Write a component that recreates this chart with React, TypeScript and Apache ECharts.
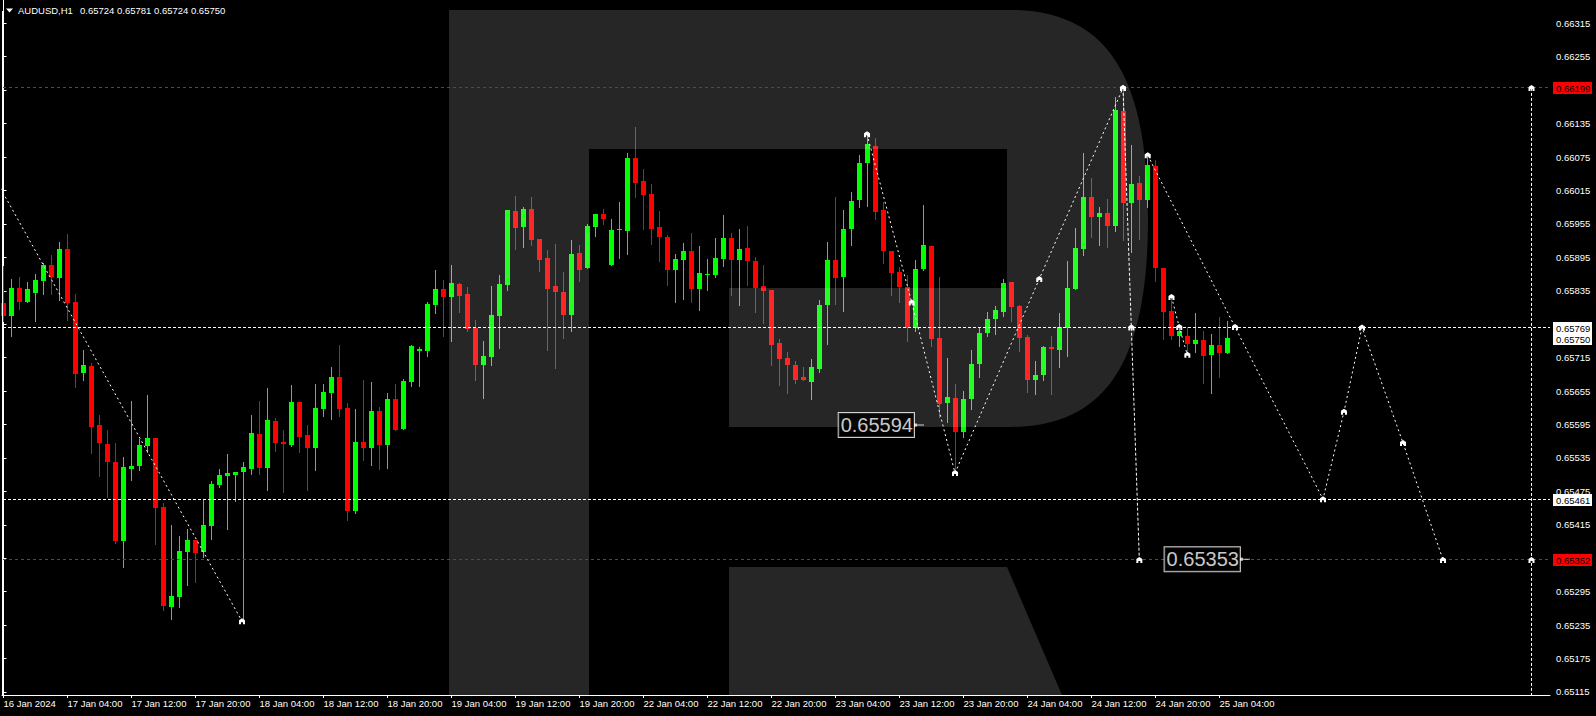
import React, { useEffect, useRef } from "react";
import * as echarts from "echarts";

// ---- Data (AUDUSD H1, bar index 0 = 16 Jan 20:00) ----
const opens = [
  0.65813,0.65789,0.65840,0.65815,0.65831,0.65853,0.65881,0.65858,0.65910,0.65815,
  0.65687,0.65700,0.65594,0.65560,0.65528,0.65386,0.65515,0.65521,0.65556,0.65571,
  0.65447,0.65268,0.65286,0.65367,0.65388,0.65367,0.65413,0.65486,0.65503,0.65504,
  0.65510,0.65515,0.65578,0.65517,0.65601,0.65564,0.65558,0.65635,0.65576,0.65553,
  0.65623,0.65652,0.65680,0.65625,0.65439,0.65564,0.65553,0.65619,0.65559,0.65641,
  0.65587,0.65672,0.65727,0.65727,0.65810,0.65838,0.65824,0.65847,0.65829,0.65768,
  0.65701,0.65717,0.65790,0.65846,0.65978,0.65950,0.65982,0.65928,0.65894,0.65844,
  0.65833,0.65792,0.65903,0.65875,0.65950,0.65973,0.65882,0.65944,0.65943,0.66073,
  0.66032,0.66009,0.65949,0.65931,0.65873,0.65890,0.65906,0.65839,0.65864,0.65863,
  0.65892,0.65930,0.65891,0.65912,0.65888,0.65844,0.65836,0.65741,0.65714,0.65702,
  0.65680,0.65672,0.65695,0.65810,0.65890,0.65860,0.65945,0.65997,0.66065,0.66095,
  0.65980,0.65906,0.65869,0.65842,0.65769,0.65874,0.65915,0.65750,0.65634,0.65643,
  0.65582,0.65640,0.65704,0.65760,0.65785,0.65797,0.65851,0.65808,0.65752,0.65674,
  0.65684,0.65734,0.65729,0.65769,0.65839,0.65910,0.66003,0.65968,0.65975,0.65952,
  0.66158,0.65993,0.66028,0.65997,0.66059,0.65876,0.65799,0.65754,0.65754,0.65740,
  0.65747,0.65719,0.65738,0.65724,
];
const highs = [
  0.65880,0.65856,0.65860,0.65851,0.65865,0.65885,0.65899,0.65922,0.65937,0.65829,
  0.65729,0.65705,0.65612,0.65585,0.65562,0.65537,0.65637,0.65569,0.65648,0.65571,
  0.65454,0.65415,0.65395,0.65407,0.65388,0.65461,0.65494,0.65515,0.65542,0.65510,
  0.65528,0.65612,0.65637,0.65660,0.65607,0.65585,0.65666,0.65635,0.65594,0.65668,
  0.65668,0.65698,0.65738,0.65634,0.65623,0.65675,0.65671,0.65626,0.65652,0.65668,
  0.65677,0.65738,0.65734,0.65815,0.65872,0.65854,0.65881,0.65849,0.65842,0.65783,
  0.65745,0.65844,0.65863,0.65980,0.66005,0.65985,0.66003,0.65928,0.65908,0.65919,
  0.65869,0.65926,0.65917,0.65955,0.65973,0.65982,0.65964,0.65994,0.66082,0.66129,
  0.66053,0.66027,0.65978,0.65935,0.65901,0.65921,0.65939,0.65915,0.65892,0.65930,
  0.65971,0.65939,0.65946,0.65951,0.65896,0.65881,0.65836,0.65748,0.65725,0.65709,
  0.65698,0.65713,0.65818,0.65922,0.66003,0.65980,0.66012,0.66079,0.66116,0.66109,
  0.65994,0.65906,0.65878,0.65863,0.65890,0.65989,0.65915,0.65860,0.65714,0.65668,
  0.65655,0.65729,0.65770,0.65797,0.65808,0.65856,0.65851,0.65810,0.65756,0.65709,
  0.65736,0.65754,0.65795,0.65888,0.65948,0.66082,0.66037,0.65985,0.66000,0.66183,
  0.66199,0.66097,0.66041,0.66079,0.66070,0.65876,0.65824,0.65770,0.65770,0.65795,
  0.65763,0.65757,0.65788,0.65781,
];
const lows = [
  0.65780,0.65753,0.65803,0.65815,0.65780,0.65830,0.65830,0.65819,0.65783,0.65663,
  0.65675,0.65543,0.65503,0.65465,0.65382,0.65340,0.65496,0.65514,0.65546,0.65381,
  0.65263,0.65246,0.65268,0.65307,0.65313,0.65358,0.65390,0.65483,0.65408,0.65458,
  0.65242,0.65506,0.65506,0.65477,0.65547,0.65474,0.65556,0.65546,0.65477,0.65514,
  0.65611,0.65605,0.65611,0.65424,0.65437,0.65532,0.65523,0.65516,0.65517,0.65586,
  0.65587,0.65665,0.65665,0.65718,0.65796,0.65753,0.65744,0.65797,0.65763,0.65674,
  0.65643,0.65701,0.65733,0.65837,0.65910,0.65914,0.65918,0.65871,0.65729,0.65697,
  0.65751,0.65762,0.65853,0.65875,0.65934,0.65954,0.65882,0.65893,0.65901,0.66004,
  0.65946,0.65919,0.65889,0.65846,0.65814,0.65821,0.65814,0.65801,0.65837,0.65860,
  0.65880,0.65828,0.65810,0.65846,0.65797,0.65778,0.65702,0.65666,0.65652,0.65670,
  0.65674,0.65641,0.65690,0.65740,0.65812,0.65799,0.65918,0.65986,0.65988,0.65964,
  0.65884,0.65828,0.65814,0.65745,0.65762,0.65872,0.65736,0.65609,0.65600,0.65508,
  0.65573,0.65623,0.65681,0.65753,0.65758,0.65790,0.65780,0.65727,0.65654,0.65650,
  0.65674,0.65650,0.65699,0.65718,0.65839,0.65900,0.65932,0.65918,0.65914,0.65943,
  0.65927,0.65905,0.65928,0.65986,0.65853,0.65749,0.65749,0.65735,0.65727,0.65726,
  0.65670,0.65652,0.65681,0.65724,
];
const closes = [
  0.65789,0.65840,0.65815,0.65838,0.65854,0.65881,0.65860,0.65910,0.65813,0.65686,
  0.65702,0.65591,0.65561,0.65528,0.65386,0.65519,0.65521,0.65558,0.65571,0.65446,
  0.65270,0.65287,0.65368,0.65388,0.65365,0.65415,0.65488,0.65504,0.65508,0.65510,
  0.65519,0.65580,0.65517,0.65603,0.65562,0.65560,0.65635,0.65573,0.65553,0.65625,
  0.65653,0.65680,0.65623,0.65439,0.65564,0.65553,0.65619,0.65559,0.65641,0.65586,
  0.65673,0.65736,0.65731,0.65811,0.65838,0.65824,0.65849,0.65826,0.65767,0.65701,
  0.65718,0.65791,0.65847,0.65980,0.65948,0.65982,0.65927,0.65891,0.65839,0.65833,
  0.65792,0.65901,0.65873,0.65951,0.65973,0.65964,0.65944,0.65945,0.66073,0.66029,
  0.66007,0.65946,0.65932,0.65873,0.65892,0.65906,0.65839,0.65867,0.65865,0.65894,
  0.65930,0.65891,0.65910,0.65889,0.65840,0.65835,0.65738,0.65713,0.65701,0.65675,
  0.65674,0.65698,0.65809,0.65890,0.65858,0.65946,0.65996,0.66064,0.66098,0.65977,
  0.65907,0.65867,0.65842,0.65769,0.65874,0.65917,0.65749,0.65632,0.65644,0.65582,
  0.65641,0.65704,0.65759,0.65784,0.65800,0.65849,0.65806,0.65751,0.65674,0.65684,
  0.65734,0.65731,0.65770,0.65840,0.65912,0.66003,0.65968,0.65975,0.65952,0.66159,
  0.65993,0.66027,0.65997,0.66061,0.65875,0.65797,0.65754,0.65763,0.65740,0.65747,
  0.65718,0.65738,0.65724,0.65750,
];

const xTickIndex = [0, 8, 16, 24, 32, 40, 48, 56, 64, 72, 80, 88, 96, 104, 112, 120, 128, 136, 144, 152];
const xTickLabels = [
  "16 Jan 2024", "17 Jan 04:00", "17 Jan 12:00", "17 Jan 20:00", "18 Jan 04:00", "18 Jan 12:00",
  "18 Jan 20:00", "19 Jan 04:00", "19 Jan 12:00", "19 Jan 20:00", "22 Jan 04:00", "22 Jan 12:00",
  "22 Jan 20:00", "23 Jan 04:00", "23 Jan 12:00", "23 Jan 20:00", "24 Jan 04:00", "24 Jan 12:00",
  "24 Jan 20:00", "25 Jan 04:00",
];
const yTickValues = [
  0.66315, 0.66255, 0.66195, 0.66135, 0.66075, 0.66015, 0.65955, 0.65895, 0.65835, 0.65775, 0.65715,
  0.65655, 0.65595, 0.65535, 0.65475, 0.65415, 0.65355, 0.65295, 0.65235, 0.65175, 0.65115,
];
// tick labels that stay visible (0.65775 is fully covered by the price tags)
const yLabelValues = yTickValues.filter((v) => v !== 0.65775);

// horizontal levels and their tag style: red line / white line / price tag only
const levelValues = [0.66199, 0.65769, 0.6575, 0.65461, 0.65352];
const levelKinds = ["red", "white", "price", "white", "red"];

// forecast paths [bar index, price]
const forecastA = [[-1, 0.66035], [29.81, 0.65242]];
const forecastB = [[107.94, 0.66116], [113.53, 0.65814], [118.94, 0.65508], [129.47, 0.65856], [139.94, 0.66199]];
const forecastBDrop = [[139.94, 0.66199], [140.98, 0.65769], [141.98, 0.65352]];
const forecastC = [[143.03, 0.66078], [153.94, 0.6577], [164.94, 0.65461], [167.56, 0.65618], [169.81, 0.65769], [174.94, 0.65562], [179.94, 0.65352]];
const forecastD = [[146.0, 0.65824], [146.97, 0.6577], [147.98, 0.6572]];
const forecastE = [[191.0, 0.66199], [191.0, 0.65352], [191.0, 0.6505]];
const priceTags = [[115.06, 0.65594], [155.8, 0.65353]];

const title = "AUDUSD,H1";
const titleValues = "0.65724 0.65781 0.65724 0.65750";

const X_MIN = -0.1875;
const X_MAX = 193.3125;
const FONT = "'Liberation Sans', Arial, sans-serif";
const FS = 9.5;
const MARK = "path://M0,6 L0,2 L3,0 L6,2 L6,6 L4,6 L4,4 L2,4 L2,6 Z";
const ARROW = "path://M0,0 L3,0 L3,1 L10,1 L10,2 L3,2 L3,3 L0,3 Z";

echarts.graphic.registerShape(
  "rfLogo",
  echarts.graphic.extendPath(
    "M449 10 L1010 10 C1110 10 1148 80 1148 218 C1148 356 1110 427 1010 427 L729 427 L729 288 L1007 288 L1007 149 L589 149 L589 695 L449 695 Z M729 567 L1007 567 L1062 695 L729 695 Z",
    {}
  )
);

function withMarks(points: number[][], noMark: number[] = []) {
  return points.map((p, k) => (noMark.includes(k) ? { value: p, symbol: "none" } : { value: p }));
}

function forecastSeries(points: number[][], dash: number[], noMark: number[] = []) {
  return {
    type: "line",
    data: withMarks(points, noMark),
    symbol: MARK,
    symbolSize: [6, 6],
    showSymbol: true,
    itemStyle: { color: "#ffffff" },
    lineStyle: { color: "#ffffff", width: 1, type: dash },
    silent: true,
    clip: true,
    z: 10,
    animation: false,
  };
}

export default function App() {
  const ref = useRef<HTMLDivElement>(null);
  useEffect(() => {
    if (!ref.current) return;
    const chart = echarts.init(ref.current, null, { renderer: "svg" });
    const candles = opens.map((o, i) => [i, o, highs[i], lows[i], closes[i]]);
    const levels = levelValues.map((v, k) => [k, v]);

    const option: any = {
      animation: false,
      backgroundColor: "#000000",
      textStyle: { fontFamily: FONT },
      grid: { left: 2, right: 46, top: 0, bottom: 21, containLabel: false },
      xAxis: {
        type: "value",
        min: X_MIN,
        max: X_MAX,
        splitLine: { show: false },
        axisLine: { show: true, lineStyle: { color: "#ffffff", width: 1 } },
        axisTick: { show: true, customValues: xTickIndex, length: 3, lineStyle: { color: "#ffffff" } },
        axisLabel: {
          show: true,
          customValues: xTickIndex,
          align: "left",
          margin: 3,
          color: "#ffffff",
          fontSize: FS,
          fontFamily: FONT,
          formatter: (v: number) => {
            const k = xTickIndex.indexOf(Math.round(v));
            return k >= 0 ? xTickLabels[k] : "";
          },
        },
      },
      yAxis: {
        type: "value",
        position: "right",
        min: 0.651096,
        max: 0.663568,
        splitLine: { show: false },
        axisLine: { show: true, lineStyle: { color: "#ffffff", width: 1 } },
        axisTick: { show: true, customValues: yTickValues, length: 3, lineStyle: { color: "#ffffff" } },
        axisLabel: {
          show: true,
          customValues: yLabelValues,
          margin: 6,
          color: "#ffffff",
          fontSize: FS,
          fontFamily: FONT,
          formatter: (v: number) => v.toFixed(5),
        },
      },
      graphic: {
        elements: [
          { type: "rfLogo", x: 0, y: 0, z: 5, silent: true, style: { fill: "rgba(255,255,255,0.15)" } },
          { type: "line", z: 20, silent: true, shape: { x1: 2.5, y1: 11, x2: 2.5, y2: 695 }, style: { stroke: "#ffffff", lineWidth: 1 } },
          { type: "polygon", z: 20, silent: true, shape: { points: [[6, 8.5], [13, 8.5], [9.5, 12.5]] }, style: { fill: "#ffffff" } },
          { type: "text", z: 20, silent: true, x: 18, y: 10, style: { text: title, fill: "#ffffff", font: `${FS}px ${FONT}`, verticalAlign: "middle" } },
          { type: "text", z: 20, silent: true, x: 80, y: 10, style: { text: titleValues, fill: "#ffffff", font: `${FS}px ${FONT}`, verticalAlign: "middle" } },
        ],
      },
      series: [
        {
          type: "custom",
          name: "AUDUSD",
          data: candles,
          encode: { x: 0, y: [1, 2, 3, 4] },
          z: 1,
          silent: true,
          renderItem: (params: any, api: any) => {
            const i = api.value(0);
            const o = api.value(1);
            const h = api.value(2);
            const l = api.value(3);
            const c = api.value(4);
            const po = api.coord([i, o]);
            const pc = api.coord([i, c]);
            const ph = api.coord([i, h]);
            const pl = api.coord([i, l]);
            const x = Math.floor(po[0]);
            const color = c >= o ? "#00ff00" : "#ff0000";
            const top = Math.round(Math.min(po[1], pc[1]));
            const bot = Math.round(Math.max(po[1], pc[1]));
            return {
              type: "group",
              children: [
                {
                  type: "line",
                  shape: { x1: x + 0.5, y1: Math.round(ph[1]), x2: x + 0.5, y2: Math.round(pl[1]) + 1 },
                  style: { stroke: color, lineWidth: 1 },
                },
                {
                  type: "rect",
                  shape: { x: x - 2, y: top, width: 5, height: Math.max(bot - top, 1) },
                  style: { fill: color },
                },
              ],
            };
          },
        },
        {
          type: "custom",
          name: "levels",
          data: levels,
          encode: { x: 0, y: 1 },
          z: 9,
          silent: true,
          clip: false,
          renderItem: (params: any, api: any) => {
            const k = api.value(0);
            const v = api.value(1);
            const cs = params.coordSys;
            const y = Math.floor(api.coord([0, v])[1]);
            const kind = levelKinds[k];
            const red = kind === "red";
            const right = cs.x + cs.width;
            const children: any[] = [];
            if (kind !== "price") {
              children.push({
                type: "line",
                z2: 1,
                shape: { x1: cs.x + 1, y1: y + 0.5, x2: right, y2: y + 0.5 },
                style: { stroke: red ? "#ff0000" : "#ffffff", lineWidth: 1, lineDash: red ? [3, 3] : [3, 2] },
              });
            }
            children.push({
              type: "rect",
              z2: 5,
              shape: { x: right + 3, y: y - 5, width: 39, height: 12 },
              style: { fill: red ? "#ff0000" : "#ffffff" },
            });
            children.push({
              type: "text",
              z2: 6,
              style: {
                text: v.toFixed(5),
                x: right + 6,
                y: y + 1.5,
                fill: "#000000",
                font: `${FS}px ${FONT}`,
                verticalAlign: "middle",
                align: "left",
              },
            });
            return { type: "group", children };
          },
        },
        forecastSeries(forecastA, [2, 3], [0]),
        forecastSeries(forecastB, [2, 3]),
        forecastSeries(forecastBDrop, [3, 2]),
        forecastSeries(forecastC, [2, 3]),
        forecastSeries(forecastD, [2, 3]),
        forecastSeries(forecastE, [3, 2], [2]),
        {
          type: "scatter",
          data: priceTags,
          symbol: ARROW,
          symbolSize: [10, 3],
          symbolOffset: [-5, 0],
          itemStyle: { color: "#ffffff" },
          silent: true,
          z: 12,
          label: {
            show: true,
            position: "left",
            distance: 0,
            formatter: (p: any) => p.value[1].toFixed(5),
            color: "#ffffff",
            fontSize: 20,
            fontFamily: FONT,
            lineHeight: 22,
            backgroundColor: "#000000",
            borderColor: "#ffffff",
            borderWidth: 1,
            padding: [1, 1, 1, 2],
          },
        },
      ],
    };
    chart.setOption(option);
    return () => chart.dispose();
  }, []);
  return (
    <div
      ref={ref}
      style={{ position: "fixed", left: 0, top: 0, width: 1596, height: 716, background: "#000" }}
    />
  );
}
